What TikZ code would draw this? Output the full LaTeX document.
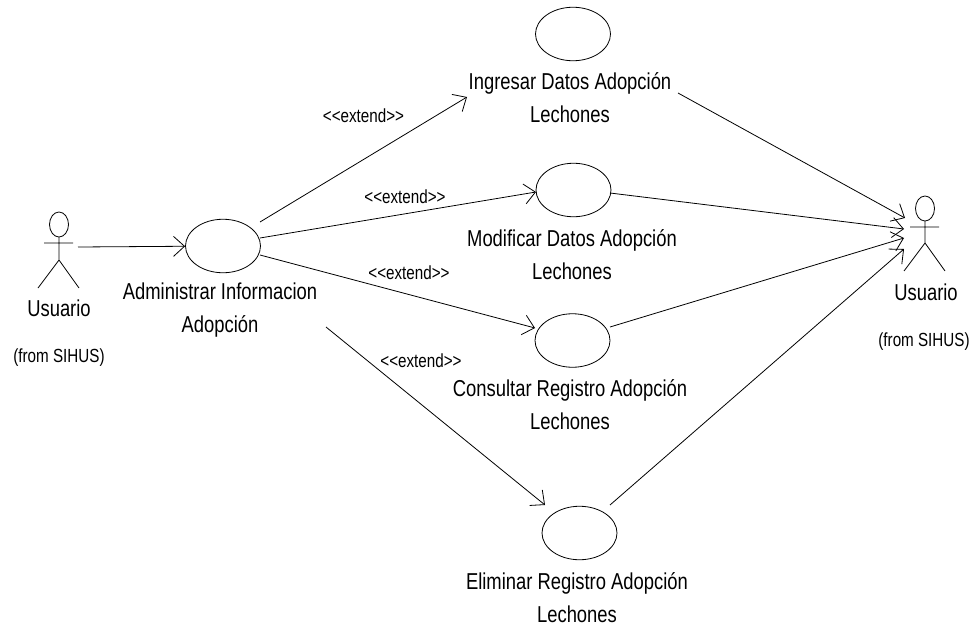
\documentclass[tikz,border=0pt]{standalone}
\usepackage{fontspec}
\setmainfont[FakeStretch=0.8]{Liberation Sans}
\usetikzlibrary{positioning, arrows.meta, shapes.geometric}
\newcommand{\extendlabel}{<{}<extend>{}>}
\tikzset{
usecase/.style={ellipse, draw, minimum width=75pt, minimum height=53.5pt, inner sep=0pt},
caption/.style={align=center, font=\fontsize{23}{33}\selectfont, inner sep=0pt},
small/.style={font=\fontsize{19}{20}\selectfont, inner sep=0pt},
stereo/.style={font=\fontsize{19}{20}\selectfont, inner sep=0pt, anchor=center},
actor/.style={inner sep=0pt, minimum width=41pt, minimum height=76pt},
>={Straight Barb[length=11pt, width=20pt]},
}

\begin{document}
\begin{tikzpicture}[x=1pt, y=-1pt, line width=0.8pt, node distance=8pt]
\useasboundingbox (0,0) rectangle (979,626);
% Nodes
\node (admin) [usecase] at (223,246) {};
\node (ingresar) [usecase] at (573,34) {};
\node (modificar) [usecase] at (573.5,190) {};
\node (consultar) [usecase] at (572.5,340.5) {};
\node (eliminar) [usecase] at (579.5,533) {};

\node (adminlabel) [caption] at (220,310.5) {Administrar Informacion\\ Adopción};
\node (ingresarlabel) [caption] at (570,98) {Ingresar Datos Adopción\\ Lechones};
\node (modificarlabel) [caption] at (572,255) {Modificar Datos Adopción\\ Lechones};
\node (consultarlabel) [caption] at (570,405) {Consultar Registro Adopción\\ Lechones};
\node (eliminarlabel) [caption] at (577,597.5) {Eliminar Registro Adopción\\ Lechones};

% Actors
\node (user) [actor] at (58.5,250) {};
\draw (59,224.5) ellipse (9.5 and 12.5);
\draw (59,237) -- (59,260) (44,243) -- (73,243) (38,288) -- (59,260) -- (79,288);
\node (userlabel) [caption] at (59,308) {Usuario};
\node (userfrom) [small] at (59,358) {(from SIHUS)};

\node (clerk) [actor] at (924.5,233.5) {};
\draw (925,208.5) ellipse (9.5 and 12.5);
\draw (925,221) -- (925,243) (910,227) -- (939,227) (904,271) -- (925,243) -- (945,271);
\node (clerklabel) [caption] at (926,292) {Usuario};
\node (clerkfrom) [small] at (924,342) {(from SIHUS)};

% Connectors
\coordinate (hand) at (78,247);
\coordinate (a1) at (260,222);
\coordinate (a2) at (467,97);
\coordinate (a3) at (260,238);
\coordinate (a4) at (536,192);
\coordinate (a5) at (260,255);
\coordinate (a6) at (535,328);
\coordinate (a7) at (326,327);
\coordinate (a8) at (545,505);
\coordinate (b1) at (678,93);
\coordinate (b2) at (905,218);
\coordinate (b3) at (610,193);
\coordinate (b4) at (904,229);
\coordinate (b5) at (610,327);
\coordinate (b6) at (904,238);
\coordinate (b7) at (610,505);
\coordinate (b8) at (904,249);

\draw [->] (hand) -- (admin);
\draw [->] (a1) -- node[stereo, xshift=0pt, yshift=43.5pt] {\extendlabel} (a2);
\draw [->] (a3) -- node[stereo, xshift=7pt, yshift=18pt] {\extendlabel} (a4);
\draw [->] (a5) -- node[stereo, xshift=11.5pt, yshift=18.5pt] {\extendlabel} (a6);
\draw [->] (a7) -- node[stereo, xshift=-14.5pt, yshift=55pt] {\extendlabel} (a8);
\draw [->] (b1) -- (b2);
\draw [->] (b3) -- (b4);
\draw [->] (b5) -- (b6);
\draw [->] (b7) -- (b8);

\end{tikzpicture}
\end{document}
